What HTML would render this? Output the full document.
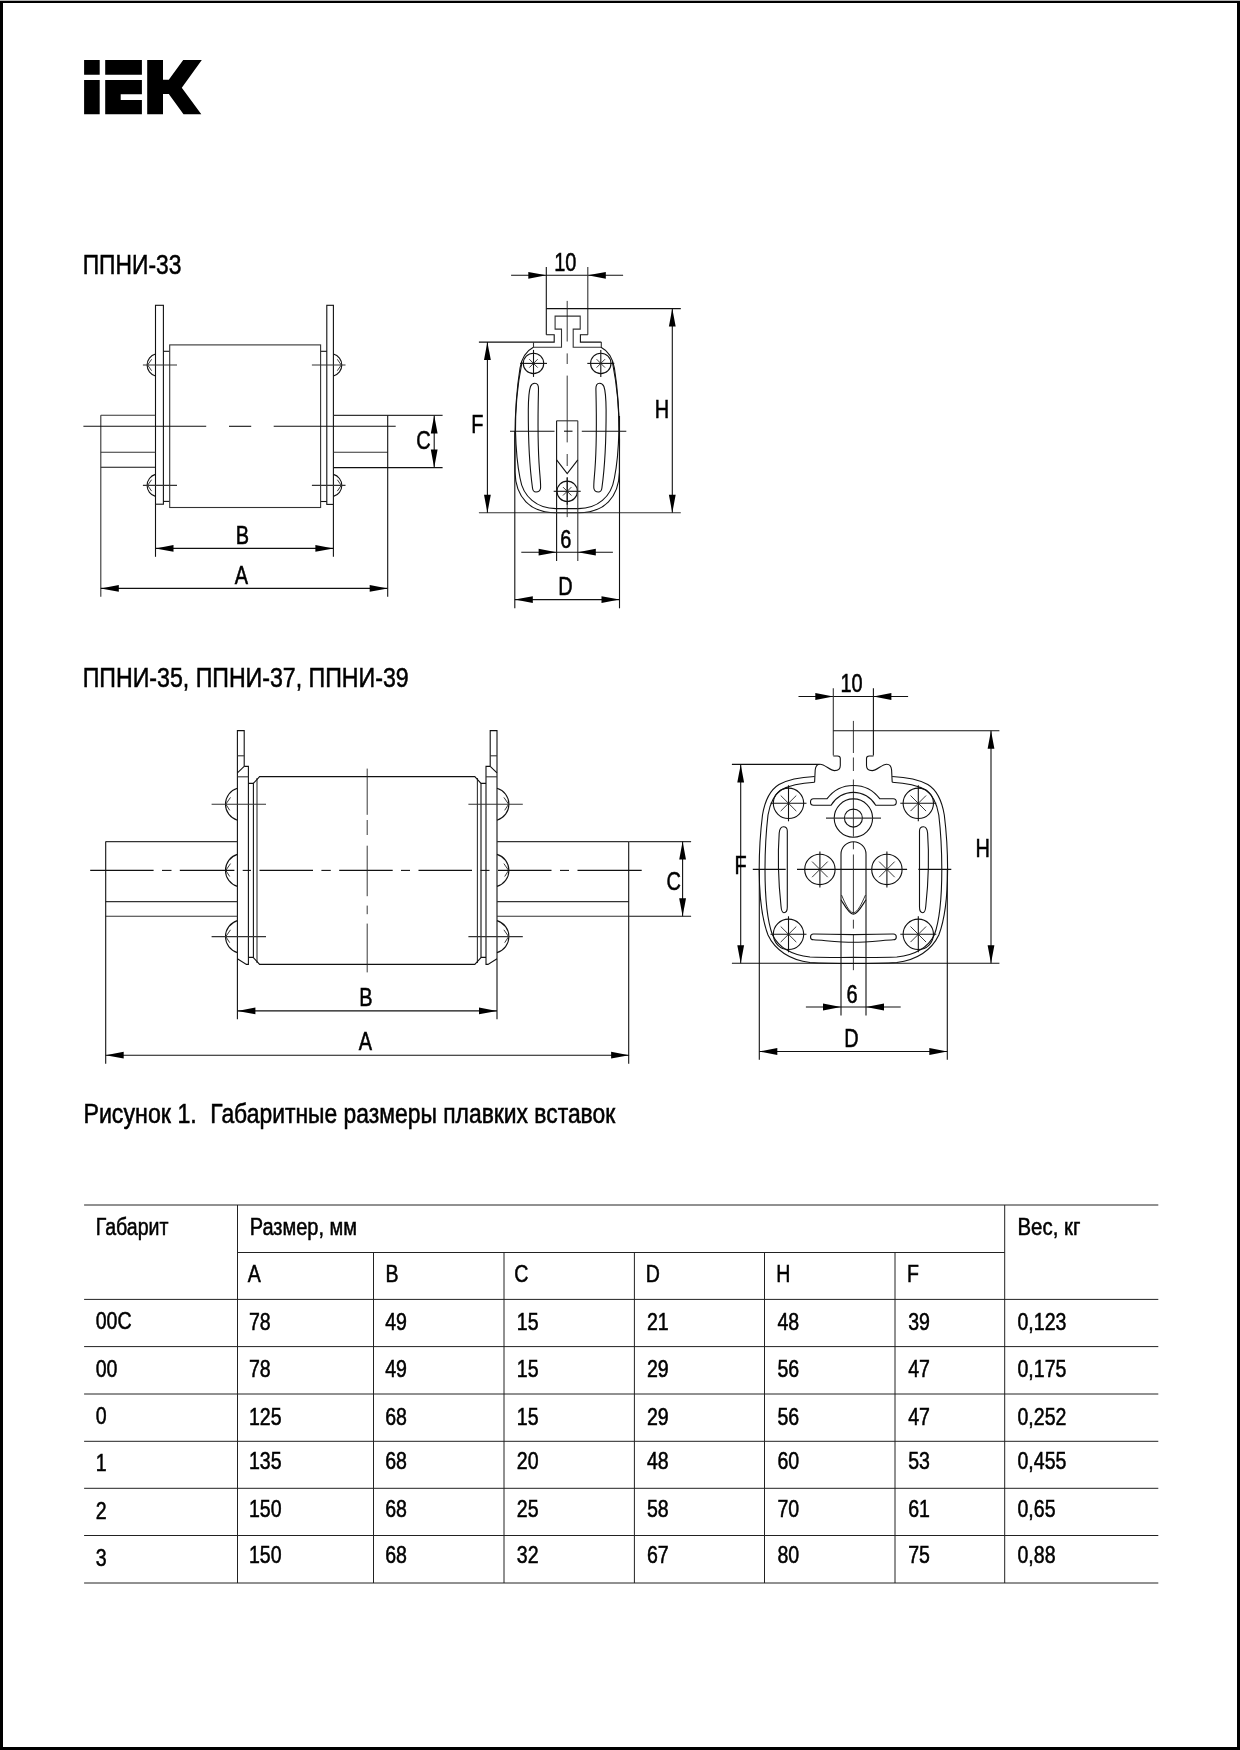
<!DOCTYPE html>
<html><head><meta charset="utf-8"><style>
html,body{margin:0;padding:0;background:#fff;}
body{width:1240px;height:1750px;overflow:hidden;position:relative;}
#frame{position:absolute;left:0;top:0;width:1240px;height:1750px;box-sizing:border-box;border:3px solid #000;}
svg{position:absolute;left:0;top:0;will-change:transform;}
.l{fill:none;stroke:#111;stroke-width:1.1;}
.g{fill:none;stroke:#333;stroke-width:1.1;}
.t1{fill:none;stroke:#222;stroke-width:0.9;}
.tb{fill:none;stroke:#222;stroke-width:1.0;}
.f{fill:#000;stroke:none;}
.t{font-family:"Liberation Sans",sans-serif;fill:#000;stroke:#000;stroke-width:0.55;}
</style></head><body>
<div id="frame"></div><div style="position:absolute;left:0;top:0;width:1240px;height:1px;background:#b4b4b4;"></div>
<svg width="1240" height="1750" viewBox="0 0 1240 1750">
<path class="f" d="M84.1,60.1H99.7V74.8H84.1Z M84.1,80.1H99.7V114.3H84.1Z M105.2,60.1H141.9V74.8H105.2Z M105.2,80.1H141.9V94.2H120.7V100H141.9V114.3H105.2Z M147.2,60.1H163V79.8H168.8L183.2,60.1H201.8L181.8,87.7L201.3,114.3H183.5L168.8,94H163V114.3H147.2Z"/>
<rect x="155.5" y="305.3" width="7.9" height="198.9" class="l"/>
<rect x="326.8" y="305.3" width="6.6" height="199.1" class="l"/>
<polyline points="163.4,351.3 169.5,351.3" class="l"/>
<polyline points="163.4,501.4 169.5,501.4" class="l"/>
<polyline points="320.5,351.3 326.8,351.3" class="l"/>
<polyline points="320.5,501.5 326.8,501.5" class="l"/>
<rect x="169.7" y="344.9" width="150.9" height="162.6" class="g"/>
<line x1="100.8" y1="415.3" x2="155.5" y2="415.3" class="g"/>
<line x1="100.8" y1="452.3" x2="155.5" y2="452.3" class="g"/>
<line x1="100.8" y1="467.3" x2="155.5" y2="467.3" class="l"/>
<line x1="100.8" y1="415.3" x2="100.8" y2="596.8" class="g"/>
<line x1="333.4" y1="415.4" x2="442.6" y2="415.4" class="g"/>
<line x1="333.4" y1="452.2" x2="387.7" y2="452.2" class="g"/>
<line x1="333.4" y1="467.6" x2="442.6" y2="467.6" class="l"/>
<line x1="387.7" y1="415.4" x2="387.7" y2="596.8" class="l"/>
<line x1="155.5" y1="504.2" x2="155.5" y2="556.8" class="l"/>
<line x1="333.4" y1="504.4" x2="333.4" y2="556.8" class="l"/>
<line x1="155.5" y1="548.4" x2="333.4" y2="548.4" class="l"/>
<polygon points="155.5,548.4 173.5,545.0 173.5,551.8" class="f"/>
<polygon points="333.4,548.4 315.4,551.8 315.4,545.0" class="f"/>
<line x1="100.8" y1="588.4" x2="387.7" y2="588.4" class="l"/>
<polygon points="100.8,588.4 118.8,585.0 118.8,591.8" class="f"/>
<polygon points="387.7,588.4 369.7,591.8 369.7,585.0" class="f"/>
<line x1="434.2" y1="415.4" x2="434.2" y2="467.6" class="l"/>
<polygon points="434.2,415.4 437.6,433.4 430.8,433.4" class="f"/>
<polygon points="434.2,467.6 430.8,449.6 437.6,449.6" class="f"/>
<line x1="83.4" y1="426.3" x2="206.2" y2="426.3" class="l"/>
<line x1="229.0" y1="426.3" x2="251.2" y2="426.3" class="l"/>
<line x1="273.7" y1="426.3" x2="395.7" y2="426.3" class="l"/>
<path d="M155.5,354 A11.4 11.4 0 0 0 155.5,376" class="l"/>
<polyline points="151.6,359.3 147.6,365.0 151.6,370.7" class="t1"/>
<line x1="142.9" y1="365.0" x2="177.0" y2="365.0" class="g"/>
<path d="M333.4,354 A11.4 11.4 0 0 1 333.4,376" class="l"/>
<polyline points="337.3,359.3 341.3,365.0 337.3,370.7" class="t1"/>
<line x1="311.9" y1="365.0" x2="345.5" y2="365.0" class="g"/>
<path d="M155.5,474.4 A11.4 11.4 0 0 0 155.5,496.4" class="l"/>
<polyline points="151.6,479.7 147.6,485.4 151.6,491.1" class="t1"/>
<line x1="142.9" y1="485.4" x2="177.0" y2="485.4" class="g"/>
<path d="M333.4,474.4 A11.4 11.4 0 0 1 333.4,496.4" class="l"/>
<polyline points="337.3,479.7 341.3,485.4 337.3,491.1" class="t1"/>
<line x1="311.9" y1="485.4" x2="345.5" y2="485.4" class="g"/>
<line x1="511.1" y1="275.3" x2="623.1" y2="275.3" class="l"/>
<polygon points="546.3,275.3 528.3,278.7 528.3,271.9" class="f"/>
<polygon points="587.8,275.3 605.8,271.9 605.8,278.7" class="f"/>
<line x1="546.3" y1="267.0" x2="546.3" y2="334.8" class="l"/>
<line x1="587.8" y1="267.0" x2="587.8" y2="334.8" class="g"/>
<line x1="546.3" y1="308.6" x2="680.8" y2="308.6" class="l"/>
<polyline points="478.9,342.1 554.2,342.1 554.2,334.8 546.3,334.8" class="l"/>
<polyline points="601.3,342.1 580.4,342.1 580.4,334.8 587.8,334.8" class="l"/>
<polyline points="533.5,342.1 533.5,347.2 561.5,347.2 561.5,329.1 555.1,329.1 555.1,316.1 580.2,316.1 580.2,329.1 573.2,329.1 573.2,347.2 601.3,347.2 601.3,342.1" class="g"/>
<line x1="567.2" y1="300.9" x2="567.2" y2="341.5" class="t1"/>
<line x1="567.2" y1="353.4" x2="567.2" y2="364.0" class="t1"/>
<line x1="567.2" y1="375.6" x2="567.2" y2="442.4" class="t1"/>
<line x1="567.2" y1="454.0" x2="567.2" y2="466.0" class="t1"/>
<line x1="567.2" y1="477.0" x2="567.2" y2="517.1" class="t1"/>
<line x1="510.0" y1="431.2" x2="554.5" y2="431.2" class="l"/>
<line x1="564.0" y1="431.2" x2="572.5" y2="431.2" class="l"/>
<line x1="581.8" y1="431.2" x2="626.3" y2="431.2" class="l"/>
<path d="M533.4,347.2 C526,351 522,357 520,368 C516.5,390 515,415 514.9,440 L515,472 C515.5,497 530,512.8 556,512.8 L578.4000000000001,512.8 C604.4000000000001,512.8 618.9000000000001,497 619.4000000000001,472 L619.5000000000001,440 C619.4000000000001,415 617.9000000000001,390 614.4000000000001,368 C612.4000000000001,357 608.4000000000001,351 601.0000000000001,347.2" class="l"/>
<path d="M522,362 C517.5,385 515.2,410 515.5,431 C516,452 518,468 520,478 C523,497 537,508.6 556,508.6 L578.4000000000001,508.6 C597.4000000000001,508.6 611.4000000000001,497 614.4000000000001,478 C616.4000000000001,468 618.4000000000001,452 618.9000000000001,431 C619.2,410 616.9000000000001,385 612.4000000000001,362" class="l"/>
<circle cx="533.5" cy="363.4" r="10.2" class="l"/>
<line x1="520.0" y1="363.4" x2="547.0" y2="363.4" class="l"/>
<line x1="533.5" y1="349.9" x2="533.5" y2="376.9" class="l"/>
<line x1="529.3" y1="359.2" x2="537.7" y2="367.6" class="t1"/>
<line x1="529.3" y1="367.6" x2="537.7" y2="359.2" class="t1"/>
<circle cx="600.8" cy="363.4" r="10.2" class="l"/>
<line x1="587.3" y1="363.4" x2="614.3" y2="363.4" class="l"/>
<line x1="600.8" y1="349.9" x2="600.8" y2="376.9" class="l"/>
<line x1="596.6" y1="359.2" x2="605.0" y2="367.6" class="t1"/>
<line x1="596.6" y1="367.6" x2="605.0" y2="359.2" class="t1"/>
<circle cx="567.2" cy="491.3" r="10.2" class="l"/>
<line x1="553.7" y1="491.3" x2="580.7" y2="491.3" class="l"/>
<line x1="567.2" y1="477.8" x2="567.2" y2="504.8" class="l"/>
<line x1="563.0" y1="487.1" x2="571.4" y2="495.5" class="t1"/>
<line x1="563.0" y1="495.5" x2="571.4" y2="487.1" class="t1"/>
<path d="M534.8,383.2 C537.5,383.2 538.6,385.5 538.5,389 C538,410 537.2,440 539.5,470 C540.3,480 541,486 540.5,488.5 C540,491 538,492 536,492 C534,492 532.8,490.5 532.5,488 C530,470 528.2,440 528.3,410 C528.4,398 529.2,390 530.5,386.5 C531.3,384.5 532.8,383.2 534.8,383.2 Z" class="l"/>
<path d="M 599.6 383.2 C 596.9 383.2 595.8 385.5 595.9 389.0 C 596.4 410.0 597.2 440.0 594.9 470.0 C 594.1 480.0 593.4 486.0 593.9 488.5 C 594.4 491.0 596.4 492.0 598.4 492.0 C 600.4 492.0 601.6 490.5 601.9 488.0 C 604.4 470.0 606.2 440.0 606.1 410.0 C 606.0 398.0 605.2 390.0 603.9 386.5 C 603.1 384.5 601.6 383.2 599.6 383.2 Z" class="l"/>
<line x1="556.6" y1="420.8" x2="577.8" y2="420.8" class="g"/>
<line x1="556.6" y1="420.8" x2="556.6" y2="561.0" class="l"/>
<line x1="577.8" y1="420.8" x2="577.8" y2="561.0" class="g"/>
<polyline points="556.6,459.8 567.2,473.5 577.8,459.8" class="l"/>
<line x1="478.9" y1="512.8" x2="680.8" y2="512.8" class="g"/>
<line x1="487.4" y1="342.1" x2="487.4" y2="512.8" class="l"/>
<polygon points="487.4,342.1 490.8,360.1 484.0,360.1" class="f"/>
<polygon points="487.4,512.8 484.0,494.8 490.8,494.8" class="f"/>
<line x1="672.3" y1="308.6" x2="672.3" y2="512.8" class="l"/>
<polygon points="672.3,308.6 675.7,326.6 668.9,326.6" class="f"/>
<polygon points="672.3,512.8 668.9,494.8 675.7,494.8" class="f"/>
<line x1="514.8" y1="431.0" x2="514.8" y2="608.3" class="l"/>
<line x1="619.5" y1="416.0" x2="619.5" y2="608.3" class="l"/>
<line x1="514.8" y1="599.6" x2="619.5" y2="599.6" class="l"/>
<polygon points="514.8,599.6 532.8,596.2 532.8,603.0" class="f"/>
<polygon points="619.5,599.6 601.5,603.0 601.5,596.2" class="f"/>
<line x1="521.3" y1="552.2" x2="612.9" y2="552.2" class="l"/>
<polygon points="556.6,552.2 538.6,555.6 538.6,548.8" class="f"/>
<polygon points="577.8,552.2 595.8,548.8 595.8,555.6" class="f"/>
<polyline points="244.2,766.4 244.2,730.6 237.4,730.6 237.4,1019.2" class="l"/>
<line x1="237.4" y1="755.8" x2="244.2" y2="755.8" class="g"/>
<polyline points="244.2,766.4 248.4,766.4 248.4,964.4 246.4,964.4 237.4,958.8" class="l"/>
<line x1="244.2" y1="766.4" x2="237.4" y2="772.8" class="l"/>
<line x1="237.4" y1="776.8" x2="248.4" y2="776.8" class="g"/>
<polyline points="248.4,783.4 253.4,783.4 253.4,957.4 248.4,957.4" class="l"/>
<line x1="257.0" y1="778.0" x2="257.0" y2="963.0" class="g"/>
<path d="M237.4,788.2 A16.7 16.7 0 0 0 237.4,820.2" class="l"/>
<polyline points="230.5,797.4 225.8,804.2 229.7,810.3" class="t1"/>
<path d="M237.4,854.4 A16.7 16.7 0 0 0 237.4,886.4" class="l"/>
<polyline points="230.5,863.6 225.8,870.4 229.7,876.5" class="t1"/>
<path d="M237.4,920.6 A16.7 16.7 0 0 0 237.4,952.6" class="l"/>
<polyline points="230.5,929.8 225.8,936.6 229.7,942.7" class="t1"/>
<line x1="211.6" y1="804.2" x2="266.0" y2="804.2" class="g"/>
<line x1="211.6" y1="936.6" x2="266.0" y2="936.6" class="g"/>
<line x1="105.7" y1="841.6" x2="237.4" y2="841.6" class="g"/>
<line x1="105.7" y1="901.6" x2="237.4" y2="901.6" class="g"/>
<line x1="105.7" y1="916.2" x2="237.4" y2="916.2" class="g"/>
<line x1="105.7" y1="841.6" x2="105.7" y2="1063.8" class="l"/>
<polyline points="490.2,766.4 490.2,730.6 497.0,730.6 497.0,1019.2" class="l"/>
<line x1="497.0" y1="755.8" x2="490.2" y2="755.8" class="g"/>
<polyline points="490.2,766.4 486.0,766.4 486.0,964.4 488.0,964.4 497.0,958.8" class="l"/>
<line x1="490.2" y1="766.4" x2="497.0" y2="772.8" class="l"/>
<line x1="497.0" y1="776.8" x2="486.0" y2="776.8" class="g"/>
<polyline points="486.0,783.4 481.0,783.4 481.0,957.4 486.0,957.4" class="l"/>
<line x1="477.4" y1="778.0" x2="477.4" y2="963.0" class="g"/>
<path d="M497.0,788.2 A16.7 16.7 0 0 1 497.0,820.2" class="l"/>
<polyline points="503.9,797.4 508.6,804.2 504.7,810.3" class="t1"/>
<path d="M497.0,854.4 A16.7 16.7 0 0 1 497.0,886.4" class="l"/>
<polyline points="503.9,863.6 508.6,870.4 504.7,876.5" class="t1"/>
<path d="M497.0,920.6 A16.7 16.7 0 0 1 497.0,952.6" class="l"/>
<polyline points="503.9,929.8 508.6,936.6 504.7,942.7" class="t1"/>
<line x1="522.8" y1="804.2" x2="468.4" y2="804.2" class="g"/>
<line x1="522.8" y1="936.6" x2="468.4" y2="936.6" class="g"/>
<line x1="628.7" y1="841.6" x2="497.0" y2="841.6" class="g"/>
<line x1="628.7" y1="901.6" x2="497.0" y2="901.6" class="g"/>
<line x1="628.7" y1="916.2" x2="497.0" y2="916.2" class="g"/>
<line x1="628.7" y1="841.6" x2="628.7" y2="1063.8" class="l"/>
<path d="M253.4,783.4 L259.6,776.6 L474.79999999999995,776.6 L481.0,783.4 M253.4,957.6 L259.6,964.4 L474.79999999999995,964.4 L481.0,957.6" class="l"/>
<line x1="691.1" y1="841.6" x2="629.1" y2="841.6" class="g"/>
<line x1="629.1" y1="916.2" x2="691.1" y2="916.2" class="l"/>
<line x1="682.6" y1="841.6" x2="682.6" y2="916.2" class="l"/>
<polygon points="682.6,841.6 686.0,859.6 679.2,859.6" class="f"/>
<polygon points="682.6,916.2 679.2,898.2 686.0,898.2" class="f"/>
<line x1="90.2" y1="870.4" x2="153.6" y2="870.4" class="l"/>
<line x1="162.0" y1="870.4" x2="171.5" y2="870.4" class="l"/>
<line x1="179.8" y1="870.4" x2="234.4" y2="870.4" class="l"/>
<line x1="242.7" y1="870.4" x2="251.0" y2="870.4" class="l"/>
<line x1="259.5" y1="870.4" x2="313.0" y2="870.4" class="l"/>
<line x1="321.4" y1="870.4" x2="330.8" y2="870.4" class="l"/>
<line x1="339.2" y1="870.4" x2="392.7" y2="870.4" class="l"/>
<line x1="401.0" y1="870.4" x2="410.0" y2="870.4" class="l"/>
<line x1="418.5" y1="870.4" x2="472.0" y2="870.4" class="l"/>
<line x1="480.5" y1="870.4" x2="489.5" y2="870.4" class="l"/>
<line x1="498.0" y1="870.4" x2="551.5" y2="870.4" class="l"/>
<line x1="560.0" y1="870.4" x2="569.0" y2="870.4" class="l"/>
<line x1="577.5" y1="870.4" x2="641.7" y2="870.4" class="l"/>
<line x1="367.2" y1="768.6" x2="367.2" y2="814.8" class="t1"/>
<line x1="367.2" y1="820.0" x2="367.2" y2="835.0" class="t1"/>
<line x1="367.2" y1="845.7" x2="367.2" y2="896.2" class="t1"/>
<line x1="367.2" y1="905.6" x2="367.2" y2="914.2" class="t1"/>
<line x1="367.2" y1="923.6" x2="367.2" y2="972.4" class="t1"/>
<line x1="237.4" y1="1010.9" x2="497.0" y2="1010.9" class="l"/>
<polygon points="237.4,1010.9 255.4,1007.5 255.4,1014.3" class="f"/>
<polygon points="497.0,1010.9 479.0,1014.3 479.0,1007.5" class="f"/>
<line x1="105.7" y1="1055.2" x2="629.1" y2="1055.2" class="l"/>
<polygon points="105.7,1055.2 123.7,1051.8 123.7,1058.6" class="f"/>
<polygon points="629.1,1055.2 611.1,1058.6 611.1,1051.8" class="f"/>
<line x1="798.5" y1="696.5" x2="908.1" y2="696.5" class="l"/>
<polygon points="833.3,696.5 815.3,699.9 815.3,693.1" class="f"/>
<polygon points="873.4,696.5 891.4,693.1 891.4,699.9" class="f"/>
<line x1="833.3" y1="688.2" x2="833.3" y2="755.5" class="g"/>
<line x1="873.4" y1="688.2" x2="873.4" y2="755.5" class="l"/>
<line x1="833.3" y1="730.8" x2="999.4" y2="730.8" class="l"/>
<line x1="731.9" y1="764.4" x2="819.5" y2="764.4" class="l"/>
<path d="M814.6,782.3 L815.2,770 C815.6,766 817,764.2 820,764.2 C825,764.2 830,770.6 834.6,770.6 C838,770.6 840.3,768.5 840.3,765.5 L840.3,758.5 C840.3,756.8 839.3,756 837.5,756 L833.3,756" class="l"/>
<path d="M 892.2 782.3 L 891.6 770.0 C 891.2 766.0 889.8 764.2 886.8 764.2 C 881.8 764.2 876.8 770.6 872.2 770.6 C 868.8 770.6 866.5 768.5 866.5 765.5 L 866.5 758.5 C 866.5 756.8 867.5 756.0 869.3 756.0 L 873.5 756.0" class="l"/>
<path d="M814.6,776.5 C800,777.2 788,779.5 779,784.5 C770,790 765,800 762.5,815 C760,835 759.2,855 759.2,869.4 C759.3,895 761.5,918 768,935 C775,950 790,960 810,962.5 C825,963.5 840,963.5 853.4,963.5 C866.8,963.5 881.8,963.5 896.8,962.5 C916.8,960 931.8,950 938.8,935 C945.3,918 947.5,895 947.5999999999999,869.4 C947.5999999999999,855 946.8,835 944.3,815 C941.8,800 936.8,790 927.8,784.5 C918.8,779.5 906.8,777.2 892.1999999999999,776.5" class="l"/>
<path d="M814.6,782.3 C802,783 790,785 781,790 C774,795 770,803 768,815 C766,832 765,850 765,869.4 C765,895 767,920 772.5,935 C779,948 792,955 810,957 C825,957.6 840,957.5 853.4,957.4 C866.8,957.5 881.8,957.6 896.8,957 C914.8,955 927.8,948 934.3,935 C939.8,920 941.8,895 941.8,869.4 C941.8,850 940.8,832 938.8,815 C936.8,803 932.8,795 925.8,790 C916.8,785 904.8,783 892.1999999999999,782.3" class="l"/>
<circle cx="788.5" cy="803.3" r="15.2" class="l"/>
<line x1="770.5" y1="803.3" x2="806.5" y2="803.3" class="l"/>
<line x1="788.5" y1="785.3" x2="788.5" y2="821.3" class="l"/>
<line x1="780.7" y1="795.5" x2="796.3" y2="811.1" class="t1"/>
<line x1="780.7" y1="811.1" x2="796.3" y2="795.5" class="t1"/>
<circle cx="918.3" cy="803.3" r="15.2" class="l"/>
<line x1="900.3" y1="803.3" x2="936.3" y2="803.3" class="l"/>
<line x1="918.3" y1="785.3" x2="918.3" y2="821.3" class="l"/>
<line x1="910.5" y1="795.5" x2="926.1" y2="811.1" class="t1"/>
<line x1="910.5" y1="811.1" x2="926.1" y2="795.5" class="t1"/>
<circle cx="788.5" cy="934.3" r="15.2" class="l"/>
<line x1="770.5" y1="934.3" x2="806.5" y2="934.3" class="l"/>
<line x1="788.5" y1="916.3" x2="788.5" y2="952.3" class="l"/>
<line x1="780.7" y1="926.5" x2="796.3" y2="942.1" class="t1"/>
<line x1="780.7" y1="942.1" x2="796.3" y2="926.5" class="t1"/>
<circle cx="918.3" cy="934.3" r="15.2" class="l"/>
<line x1="900.3" y1="934.3" x2="936.3" y2="934.3" class="l"/>
<line x1="918.3" y1="916.3" x2="918.3" y2="952.3" class="l"/>
<line x1="910.5" y1="926.5" x2="926.1" y2="942.1" class="t1"/>
<line x1="910.5" y1="942.1" x2="926.1" y2="926.5" class="t1"/>
<circle cx="819.9" cy="869.4" r="15.2" class="l"/>
<line x1="819.9" y1="869.4" x2="819.9" y2="869.4" class="l"/>
<line x1="819.9" y1="851.4" x2="819.9" y2="887.4" class="l"/>
<line x1="812.1" y1="861.6" x2="827.7" y2="877.2" class="t1"/>
<line x1="812.1" y1="877.2" x2="827.7" y2="861.6" class="t1"/>
<circle cx="886.9" cy="869.4" r="15.2" class="l"/>
<line x1="886.9" y1="869.4" x2="886.9" y2="869.4" class="l"/>
<line x1="886.9" y1="851.4" x2="886.9" y2="887.4" class="l"/>
<line x1="879.1" y1="861.6" x2="894.7" y2="877.2" class="t1"/>
<line x1="879.1" y1="877.2" x2="894.7" y2="861.6" class="t1"/>
<line x1="752.8" y1="869.4" x2="785.7" y2="869.4" class="l"/>
<line x1="797.0" y1="869.4" x2="907.1" y2="869.4" class="l"/>
<line x1="918.4" y1="869.4" x2="951.3" y2="869.4" class="l"/>
<line x1="853.4" y1="720.9" x2="853.4" y2="753.0" class="t1"/>
<line x1="853.4" y1="757.5" x2="853.4" y2="771.0" class="t1"/>
<line x1="853.4" y1="779.5" x2="853.4" y2="836.7" class="t1"/>
<line x1="853.4" y1="841.9" x2="853.4" y2="849.3" class="t1"/>
<line x1="853.4" y1="854.5" x2="853.4" y2="913.8" class="t1"/>
<line x1="853.4" y1="919.7" x2="853.4" y2="928.6" class="t1"/>
<line x1="853.4" y1="934.6" x2="853.4" y2="970.2" class="t1"/>
<circle cx="853.4" cy="818.1" r="19.2" class="l"/>
<circle cx="853.4" cy="818.1" r="9.0" class="l"/>
<line x1="826.0" y1="818.1" x2="881.0" y2="818.1" class="g"/>
<path d="M827.1,798.7 L813.5,798.7 C811.5,798.7 810.5,800.5 810.5,802 C810.5,803.8 811.5,805.3 813.5,805.3 L831.1,805.3 A25.7 25.7 0 0 1 875.6999999999999,805.3 L893.3,805.3 C895.3,805.3 896.3,803.8 896.3,802 C896.3,800.5 895.3,798.7 893.3,798.7 L879.6999999999999,798.7 A32.7 32.7 0 0 0 827.1,798.7 Z" class="l"/>
<path d="M841,1015.6 L841,854.3 A12.4 12.4 0 0 1 866,854.3 L866,1015.6" class="l"/>
<path d="M841,899.7 C845,906 849,914.2 853.4,914.2 C857.8,914.2 861.8,906 866,899.7" class="l"/>
<path d="M841.5,895 C845,903 849,912.7 853.4,912.7 C857.8,912.7 861.8,903 865.5,895" class="t1"/>
<path d="M787.3,831 C787.3,828.5 785.8,826.8 783.4,826.8 C781,826.8 779.6,829 779.2,833 C778,850 778.2,880 781,906 C781.3,910 782.2,912.7 784,912.7 C786,912.7 787.3,910.8 787.3,907 Z" class="l"/>
<path d="M 919.5 831.0 C 919.5 828.5 921.0 826.8 923.4 826.8 C 925.8 826.8 927.2 829.0 927.6 833.0 C 928.8 850.0 928.6 880.0 925.8 906.0 C 925.5 910.0 924.6 912.7 922.8 912.7 C 920.8 912.7 919.5 910.8 919.5 907.0 Z" class="l"/>
<path d="M813.5,934 C825,934 840,934.3 853.4,934.6 C866.8,934.3 881.8,934 893.3,934 C895.5,934 896.3,935.8 896.3,937 C896.3,938.8 895.3,939.8 893.3,939.8 C881.8,940.5 866.8,942.3 853.4,942.3 C840,942.3 825,940.5 813.5,939.8 C811.5,939.8 810.5,938.8 810.5,937 C810.5,935.8 811.3,934 813.5,934 Z" class="l"/>
<line x1="731.9" y1="963.3" x2="999.4" y2="963.3" class="l"/>
<line x1="740.7" y1="764.4" x2="740.7" y2="963.3" class="l"/>
<polygon points="740.7,764.4 744.1,782.4 737.3,782.4" class="f"/>
<polygon points="740.7,963.3 737.3,945.3 744.1,945.3" class="f"/>
<line x1="991.0" y1="730.8" x2="991.0" y2="963.3" class="l"/>
<polygon points="991.0,730.8 994.4,748.8 987.6,748.8" class="f"/>
<polygon points="991.0,963.3 987.6,945.3 994.4,945.3" class="f"/>
<line x1="759.3" y1="869.4" x2="759.3" y2="1059.7" class="l"/>
<line x1="947.3" y1="869.4" x2="947.3" y2="1059.7" class="l"/>
<line x1="759.3" y1="1051.5" x2="947.3" y2="1051.5" class="l"/>
<polygon points="759.3,1051.5 777.3,1048.1 777.3,1054.9" class="f"/>
<polygon points="947.3,1051.5 929.3,1054.9 929.3,1048.1" class="f"/>
<line x1="805.9" y1="1007.0" x2="900.7" y2="1007.0" class="l"/>
<polygon points="841.0,1007.0 823.0,1010.4 823.0,1003.6" class="f"/>
<polygon points="866.0,1007.0 884.0,1003.6 884.0,1010.4" class="f"/>
<line x1="84.1" y1="1205.0" x2="1158.3" y2="1205.0" class="tb"/>
<line x1="84.1" y1="1299.4" x2="1158.3" y2="1299.4" class="tb"/>
<line x1="84.1" y1="1346.6" x2="1158.3" y2="1346.6" class="tb"/>
<line x1="84.1" y1="1394.0" x2="1158.3" y2="1394.0" class="tb"/>
<line x1="84.1" y1="1441.3" x2="1158.3" y2="1441.3" class="tb"/>
<line x1="84.1" y1="1488.3" x2="1158.3" y2="1488.3" class="tb"/>
<line x1="84.1" y1="1535.5" x2="1158.3" y2="1535.5" class="tb"/>
<line x1="84.1" y1="1583.0" x2="1158.3" y2="1583.0" class="tb"/>
<line x1="237.5" y1="1252.5" x2="1004.7" y2="1252.5" class="tb"/>
<line x1="237.5" y1="1205.0" x2="237.5" y2="1583.0" class="tb"/>
<line x1="1004.7" y1="1205.0" x2="1004.7" y2="1583.0" class="tb"/>
<line x1="373.5" y1="1252.5" x2="373.5" y2="1583.0" class="tb"/>
<line x1="504.0" y1="1252.5" x2="504.0" y2="1583.0" class="tb"/>
<line x1="634.4" y1="1252.5" x2="634.4" y2="1583.0" class="tb"/>
<line x1="764.5" y1="1252.5" x2="764.5" y2="1583.0" class="tb"/>
<line x1="895.0" y1="1252.5" x2="895.0" y2="1583.0" class="tb"/>
<text transform="translate(242.5,543.9) scale(0.8,1)" font-size="24.9" text-anchor="middle" class="t">B</text>
<text transform="translate(241.5,583.8) scale(0.8,1)" font-size="24.9" text-anchor="middle" class="t">A</text>
<text transform="translate(423.5,448.5) scale(0.8,1)" font-size="24.9" text-anchor="middle" class="t">C</text>
<text transform="translate(565.3,271.0) scale(0.8,1)" font-size="24.9" text-anchor="middle" class="t">10</text>
<text transform="translate(477.2,432.9) scale(0.8,1)" font-size="24.9" text-anchor="middle" class="t">F</text>
<text transform="translate(662.0,417.9) scale(0.8,1)" font-size="24.9" text-anchor="middle" class="t">H</text>
<text transform="translate(565.9,548.3) scale(0.8,1)" font-size="24.9" text-anchor="middle" class="t">6</text>
<text transform="translate(565.4,595.0) scale(0.8,1)" font-size="24.9" text-anchor="middle" class="t">D</text>
<text transform="translate(366.0,1006.3) scale(0.8,1)" font-size="24.9" text-anchor="middle" class="t">B</text>
<text transform="translate(365.5,1050.4) scale(0.8,1)" font-size="24.9" text-anchor="middle" class="t">A</text>
<text transform="translate(673.8,889.5) scale(0.8,1)" font-size="24.9" text-anchor="middle" class="t">C</text>
<text transform="translate(851.5,691.9) scale(0.8,1)" font-size="24.9" text-anchor="middle" class="t">10</text>
<text transform="translate(740.5,873.7) scale(0.8,1)" font-size="24.9" text-anchor="middle" class="t">F</text>
<text transform="translate(982.6,856.7) scale(0.8,1)" font-size="24.9" text-anchor="middle" class="t">H</text>
<text transform="translate(852.0,1002.9) scale(0.8,1)" font-size="24.9" text-anchor="middle" class="t">6</text>
<text transform="translate(851.4,1047.0) scale(0.8,1)" font-size="24.9" text-anchor="middle" class="t">D</text>
<text transform="translate(95.7,1234.9) scale(0.805,1)" font-size="24.3" text-anchor="start" class="t">Габарит</text>
<text transform="translate(249.8,1234.9) scale(0.822,1)" font-size="24.3" text-anchor="start" class="t">Размер, мм</text>
<text transform="translate(1017.5,1234.9) scale(0.84,1)" font-size="24.3" text-anchor="start" class="t">Вес, кг</text>
<text transform="translate(247.7,1282.4) scale(0.805,1)" font-size="24.3" text-anchor="start" class="t">A</text>
<text transform="translate(385.6,1282.4) scale(0.805,1)" font-size="24.3" text-anchor="start" class="t">B</text>
<text transform="translate(514.3,1282.4) scale(0.805,1)" font-size="24.3" text-anchor="start" class="t">C</text>
<text transform="translate(645.8,1282.4) scale(0.805,1)" font-size="24.3" text-anchor="start" class="t">D</text>
<text transform="translate(776.3,1282.4) scale(0.805,1)" font-size="24.3" text-anchor="start" class="t">H</text>
<text transform="translate(907.0,1282.4) scale(0.805,1)" font-size="24.3" text-anchor="start" class="t">F</text>
<text transform="translate(95.7,1329.3) scale(0.805,1)" font-size="24.3" text-anchor="start" class="t">00C</text>
<text transform="translate(249.0,1329.7) scale(0.805,1)" font-size="24.3" text-anchor="start" class="t">78</text>
<text transform="translate(385.2,1329.7) scale(0.805,1)" font-size="24.3" text-anchor="start" class="t">49</text>
<text transform="translate(516.8,1329.7) scale(0.805,1)" font-size="24.3" text-anchor="start" class="t">15</text>
<text transform="translate(646.9,1329.7) scale(0.805,1)" font-size="24.3" text-anchor="start" class="t">21</text>
<text transform="translate(777.5,1329.7) scale(0.805,1)" font-size="24.3" text-anchor="start" class="t">48</text>
<text transform="translate(908.2,1329.7) scale(0.805,1)" font-size="24.3" text-anchor="start" class="t">39</text>
<text transform="translate(1017.5,1329.7) scale(0.805,1)" font-size="24.3" text-anchor="start" class="t">0,123</text>
<text transform="translate(95.7,1376.8) scale(0.805,1)" font-size="24.3" text-anchor="start" class="t">00</text>
<text transform="translate(249.0,1377.0) scale(0.805,1)" font-size="24.3" text-anchor="start" class="t">78</text>
<text transform="translate(385.2,1377.0) scale(0.805,1)" font-size="24.3" text-anchor="start" class="t">49</text>
<text transform="translate(516.8,1377.0) scale(0.805,1)" font-size="24.3" text-anchor="start" class="t">15</text>
<text transform="translate(646.9,1377.0) scale(0.805,1)" font-size="24.3" text-anchor="start" class="t">29</text>
<text transform="translate(777.5,1377.0) scale(0.805,1)" font-size="24.3" text-anchor="start" class="t">56</text>
<text transform="translate(908.2,1377.0) scale(0.805,1)" font-size="24.3" text-anchor="start" class="t">47</text>
<text transform="translate(1017.5,1377.0) scale(0.805,1)" font-size="24.3" text-anchor="start" class="t">0,175</text>
<text transform="translate(95.7,1424.1) scale(0.805,1)" font-size="24.3" text-anchor="start" class="t">0</text>
<text transform="translate(249.0,1424.5) scale(0.805,1)" font-size="24.3" text-anchor="start" class="t">125</text>
<text transform="translate(385.2,1424.5) scale(0.805,1)" font-size="24.3" text-anchor="start" class="t">68</text>
<text transform="translate(516.8,1424.5) scale(0.805,1)" font-size="24.3" text-anchor="start" class="t">15</text>
<text transform="translate(646.9,1424.5) scale(0.805,1)" font-size="24.3" text-anchor="start" class="t">29</text>
<text transform="translate(777.5,1424.5) scale(0.805,1)" font-size="24.3" text-anchor="start" class="t">56</text>
<text transform="translate(908.2,1424.5) scale(0.805,1)" font-size="24.3" text-anchor="start" class="t">47</text>
<text transform="translate(1017.5,1424.5) scale(0.805,1)" font-size="24.3" text-anchor="start" class="t">0,252</text>
<text transform="translate(95.7,1471.0) scale(0.805,1)" font-size="24.3" text-anchor="start" class="t">1</text>
<text transform="translate(249.0,1469.0) scale(0.805,1)" font-size="24.3" text-anchor="start" class="t">135</text>
<text transform="translate(385.2,1469.0) scale(0.805,1)" font-size="24.3" text-anchor="start" class="t">68</text>
<text transform="translate(516.8,1469.0) scale(0.805,1)" font-size="24.3" text-anchor="start" class="t">20</text>
<text transform="translate(646.9,1469.0) scale(0.805,1)" font-size="24.3" text-anchor="start" class="t">48</text>
<text transform="translate(777.5,1469.0) scale(0.805,1)" font-size="24.3" text-anchor="start" class="t">60</text>
<text transform="translate(908.2,1469.0) scale(0.805,1)" font-size="24.3" text-anchor="start" class="t">53</text>
<text transform="translate(1017.5,1469.0) scale(0.805,1)" font-size="24.3" text-anchor="start" class="t">0,455</text>
<text transform="translate(95.7,1518.5) scale(0.805,1)" font-size="24.3" text-anchor="start" class="t">2</text>
<text transform="translate(249.0,1516.5) scale(0.805,1)" font-size="24.3" text-anchor="start" class="t">150</text>
<text transform="translate(385.2,1516.5) scale(0.805,1)" font-size="24.3" text-anchor="start" class="t">68</text>
<text transform="translate(516.8,1516.5) scale(0.805,1)" font-size="24.3" text-anchor="start" class="t">25</text>
<text transform="translate(646.9,1516.5) scale(0.805,1)" font-size="24.3" text-anchor="start" class="t">58</text>
<text transform="translate(777.5,1516.5) scale(0.805,1)" font-size="24.3" text-anchor="start" class="t">70</text>
<text transform="translate(908.2,1516.5) scale(0.805,1)" font-size="24.3" text-anchor="start" class="t">61</text>
<text transform="translate(1017.5,1516.5) scale(0.805,1)" font-size="24.3" text-anchor="start" class="t">0,65</text>
<text transform="translate(95.7,1565.8) scale(0.805,1)" font-size="24.3" text-anchor="start" class="t">3</text>
<text transform="translate(249.0,1563.2) scale(0.805,1)" font-size="24.3" text-anchor="start" class="t">150</text>
<text transform="translate(385.2,1563.2) scale(0.805,1)" font-size="24.3" text-anchor="start" class="t">68</text>
<text transform="translate(516.8,1563.2) scale(0.805,1)" font-size="24.3" text-anchor="start" class="t">32</text>
<text transform="translate(646.9,1563.2) scale(0.805,1)" font-size="24.3" text-anchor="start" class="t">67</text>
<text transform="translate(777.5,1563.2) scale(0.805,1)" font-size="24.3" text-anchor="start" class="t">80</text>
<text transform="translate(908.2,1563.2) scale(0.805,1)" font-size="24.3" text-anchor="start" class="t">75</text>
<text transform="translate(1017.5,1563.2) scale(0.805,1)" font-size="24.3" text-anchor="start" class="t">0,88</text>
<text transform="translate(82.7,273.8) scale(0.807,1)" font-size="28.3" text-anchor="start" class="t">ППНИ-33</text>
<text transform="translate(82.7,686.7) scale(0.83,1)" font-size="27.9" text-anchor="start" class="t">ППНИ-35, ППНИ-37, ППНИ-39</text>
<text transform="translate(83.4,1122.5) scale(0.86,1)" font-size="27.0" text-anchor="start" class="t">Рисунок 1.</text>
<text transform="translate(210.3,1122.5) scale(0.8475,1)" font-size="27.0" text-anchor="start" class="t">Габаритные размеры плавких вставок</text>
</svg>
</body></html>
